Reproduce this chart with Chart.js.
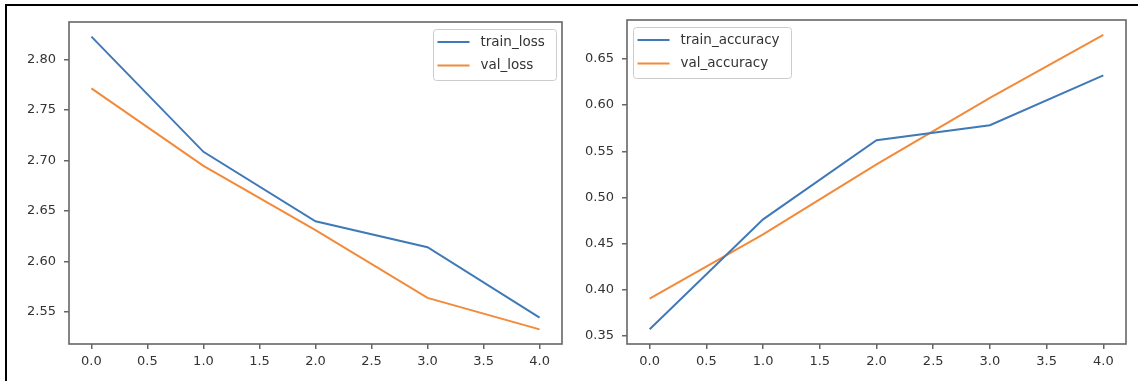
<!DOCTYPE html>
<html>
<head>
<meta charset="utf-8">
<script src="https://cdn.jsdelivr.net/npm/chart.js@4.4.1/dist/chart.umd.min.js"></script>
<style>
html,body{margin:0;padding:0;background:#fff;width:1138px;height:381px;overflow:hidden;}
#c1wrap{position:absolute;left:0;top:0;width:570px;height:381px;}
#c2wrap{position:absolute;left:570px;top:0;width:568px;height:381px;}
#frame{position:absolute;left:5px;top:4px;width:1133px;height:377px;border-top:2px solid #000;border-left:2px solid #000;box-sizing:border-box;pointer-events:none;}
</style>
</head>
<body>
<div id="c1wrap"><canvas id="c1"></canvas></div>
<div id="c2wrap"><canvas id="c2"></canvas></div>
<div id="frame"></div>
<script>
// ---- data ----
const epochs = [0, 1, 2, 3, 4];
const trainLoss = [2.8225, 2.7085, 2.6398, 2.6141, 2.5444];
const valLoss = [2.7713, 2.6946, 2.6309, 2.5639, 2.5328];
const trainAccuracy = [0.3572, 0.4762, 0.5620, 0.5782, 0.6323];
const valAccuracy = [0.3904, 0.4600, 0.5357, 0.6078, 0.6762];
const xTickValues = [0.0, 0.5, 1.0, 1.5, 2.0, 2.5, 3.0, 3.5, 4.0];
const lossTickValues = [2.55, 2.60, 2.65, 2.70, 2.75, 2.80];
const accTickValues = [0.35, 0.40, 0.45, 0.50, 0.55, 0.60, 0.65];

const BLUE = '#4079b8';
const ORANGE = '#f28a3a';
const TEXT = '#333333';
const SPINE = '#666666';
const FONT = 'DejaVu Sans';

Chart.defaults.font.family = FONT;
Chart.defaults.color = TEXT;

const framePlugin = {
  id: 'axesFrame',
  afterDraw(chart, args, o) {
    const {ctx, chartArea: a} = chart;
    ctx.save();
    ctx.strokeStyle = o.color;
    ctx.lineWidth = o.width;
    ctx.strokeRect(a.left, a.top, a.right - a.left, a.bottom - a.top);
    ctx.restore();
  }
};

const boxLegend = {
  id: 'boxLegend',
  afterDraw(chart, args, o) {
    const {ctx, chartArea: a} = chart;
    const ds = chart.data.datasets;
    ctx.save();
    ctx.font = o.size + 'px "' + FONT + '"';
    const tw = Math.max(...ds.map(d => ctx.measureText(d.label).width));
    const w = Math.round(o.textOffset + tw + o.padRight);
    const h = o.height;
    const x0 = Math.round(o.align === 'right' ? a.right - o.margin - w : a.left + o.margin) + 0.5;
    const y0 = Math.round(a.top + o.marginTop) + 0.5;
    ctx.fillStyle = 'rgba(255,255,255,0.85)';
    ctx.strokeStyle = o.borderColor;
    ctx.lineWidth = 1;
    ctx.beginPath();
    if (ctx.roundRect) ctx.roundRect(x0, y0, w, h, 3); else ctx.rect(x0, y0, w, h);
    ctx.fill();
    ctx.stroke();
    ds.forEach((d, i) => {
      const y = y0 + o.firstRow + i * o.rowGap;
      ctx.strokeStyle = d.borderColor;
      ctx.lineWidth = d.borderWidth;
      ctx.beginPath();
      ctx.moveTo(x0 + o.lineStart, y);
      ctx.lineTo(x0 + o.lineStart + o.lineLen, y);
      ctx.stroke();
      ctx.fillStyle = o.color;
      ctx.textBaseline = 'middle';
      ctx.textAlign = 'left';
      ctx.fillText(d.label, x0 + o.textOffset, y);
    });
    ctx.restore();
  }
};

function series(xs, ys) { return xs.map((x, i) => ({x: x, y: ys[i]})); }

function makeChart(id, sets, yMin, yMax, yTicks, yDigits, pad, yWidth, legendAlign) {
  return new Chart(document.getElementById(id), {
    type: 'line',
    data: {
      datasets: sets.map(s => ({
        label: s.label,
        data: series(epochs, s.values),
        borderColor: s.color,
        backgroundColor: s.color,
        borderWidth: 2,
        pointRadius: 0,
        pointHoverRadius: 0,
        tension: 0,
        fill: false
      }))
    },
    options: {
      responsive: true,
      maintainAspectRatio: false,
      animation: false,
      devicePixelRatio: 1,
      events: [],
      layout: {padding: pad},
      scales: {
        x: {
          type: 'linear',
          min: -0.2,
          max: 4.2,
          afterBuildTicks: sc => { sc.ticks = xTickValues.map(v => ({value: v})); },
          afterFit: sc => { sc.height = 30; },
          ticks: {
            autoSkip: false,
            maxRotation: 0,
            padding: 5,
            color: TEXT,
            font: {size: 13},
            callback: v => Number(v).toFixed(1)
          },
          grid: {display: true, drawOnChartArea: false, drawTicks: true, tickLength: 5, color: SPINE, lineWidth: 1.5},
          border: {display: false}
        },
        y: {
          type: 'linear',
          min: yMin,
          max: yMax,
          afterBuildTicks: sc => { sc.ticks = yTicks.map(v => ({value: v})); },
          afterFit: sc => { sc.width = yWidth; },
          ticks: {
            autoSkip: false,
            padding: 8,
            color: TEXT,
            font: {size: 13},
            callback: v => Number(v).toFixed(yDigits)
          },
          grid: {display: true, drawOnChartArea: false, drawTicks: true, tickLength: 5, color: SPINE, lineWidth: 1.5},
          border: {display: false}
        }
      },
      plugins: {
        legend: {display: false},
        tooltip: {enabled: false},
        axesFrame: {color: SPINE, width: 1.6},
        boxLegend: {
          align: legendAlign,
          margin: 6,
          marginTop: 7,
          size: 13.5,
          height: 51,
          firstRow: 12.5,
          rowGap: 23.5,
          lineStart: 4,
          lineLen: 32,
          textOffset: 47,
          padRight: 12,
          borderColor: '#cccccc',
          color: TEXT
        }
      }
    },
    plugins: [framePlugin, boxLegend]
  });
}

makeChart('c1', [
  {label: 'train_loss', values: trainLoss, color: BLUE},
  {label: 'val_loss', values: valLoss, color: ORANGE}
], 2.5183, 2.8370, lossTickValues, 2, {left: 9, top: 22, right: 8, bottom: 7}, 60, 'right');

makeChart('c2', [
  {label: 'train_accuracy', values: trainAccuracy, color: BLUE},
  {label: 'val_accuracy', values: valAccuracy, color: ORANGE}
], 0.3412, 0.6922, accTickValues, 2, {left: 0, top: 20, right: 12, bottom: 7}, 57, 'left');
</script>
</body>
</html>
